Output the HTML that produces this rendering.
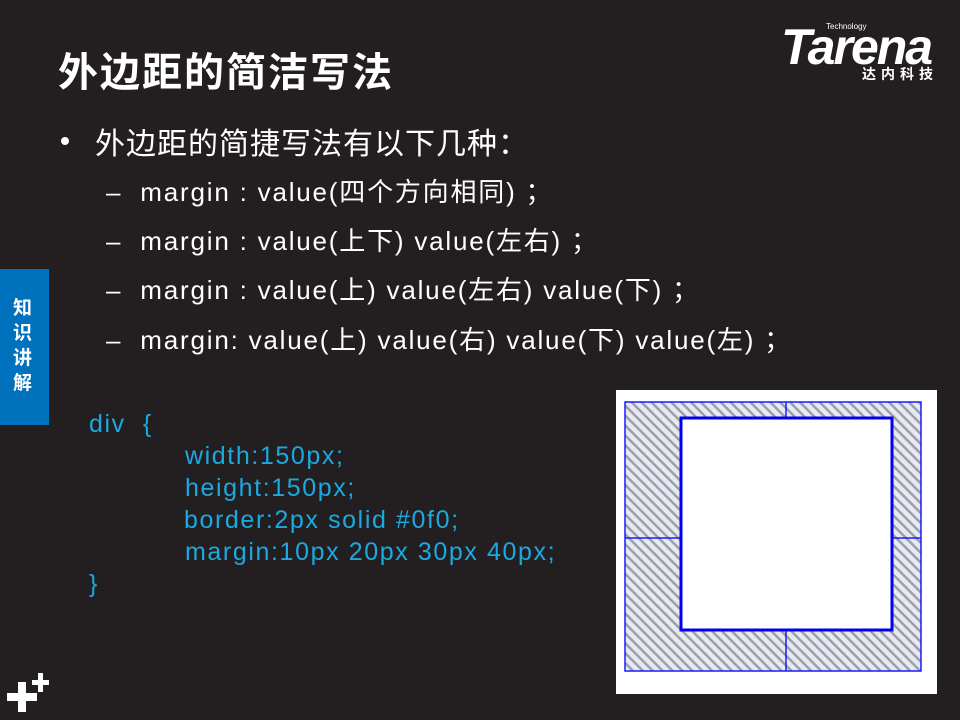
<!DOCTYPE html>
<html><head><meta charset="utf-8"><style>
body{margin:0;width:960px;height:720px;background:#231f20;position:relative;overflow:hidden;font-family:"Liberation Sans","Noto Sans CJK SC",sans-serif;}
.a{position:absolute;white-space:nowrap;}
.t{left:58px;top:40px;font-size:40px;font-weight:bold;color:#fff;letter-spacing:2px;}
.b{color:#fff;font-size:30px;letter-spacing:1px;}
.s{color:#fff;font-size:26px;letter-spacing:1.8px;}
.c{color:#1ba9e1;font-size:25px;letter-spacing:1.6px;}
</style></head><body>
<div class="a t">外边距的简洁写法</div>
<div class="a" style="left:781px;top:18px;color:#fff;font:italic bold 50px 'Liberation Sans',sans-serif;letter-spacing:-2px;">Tarena</div>
<div class="a" style="left:826px;top:22px;color:#fff;font-size:8px;">Technology</div>
<div class="a" style="left:862px;top:64px;color:#fff;font-size:14px;font-weight:bold;letter-spacing:5px;">达内科技</div>
<div class="a" style="left:61px;top:137px;width:8px;height:8px;border-radius:50%;background:#fff;"></div>
<div class="a b" style="left:95px;top:119px;">外边距的简捷写法有以下几种：</div>
<div class="a s" style="left:106px;top:172px;">–&nbsp;&nbsp;margin : value(四个方向相同) ；</div>
<div class="a s" style="left:106px;top:221px;">–&nbsp;&nbsp;margin : value(上下) value(左右) ；</div>
<div class="a s" style="left:106px;top:270px;">–&nbsp;&nbsp;margin : value(上) value(左右) value(下) ；</div>
<div class="a s" style="left:106px;top:320px;">–&nbsp;&nbsp;margin: value(上) value(右) value(下) value(左) ；</div>
<div class="a" style="left:0;top:269px;width:49px;height:156px;background:#0071bc;"></div>
<div class="a" style="left:13px;top:296px;width:24px;color:#fff;font-size:19px;font-weight:bold;line-height:25px;white-space:normal;">知识讲解</div>
<div class="a c" style="left:89px;top:410px;">div&nbsp;&nbsp;{</div>
<div class="a c" style="left:185px;top:442px;">width:150px;</div>
<div class="a c" style="left:185px;top:474px;">height:150px;</div>
<div class="a c" style="left:184px;top:506px;">border:2px solid #0f0;</div>
<div class="a c" style="left:185px;top:538px;">margin:10px 20px 30px 40px;</div>
<div class="a c" style="left:89px;top:570px;">}</div>
<svg class="a" style="left:0;top:0" width="960" height="720">
<defs><pattern id="h" width="7" height="7" patternUnits="userSpaceOnUse" patternTransform="rotate(-45)"><rect width="7" height="7" fill="#e6eaf4"/><rect width="2.5" height="7" fill="#a0a0a4"/></pattern></defs>
<rect x="616" y="390" width="321" height="304" fill="#fff"/>
<rect x="625" y="402" width="296" height="269" fill="url(#h)" stroke="#1a1aff" stroke-width="1.5"/>
<line x1="786" y1="402" x2="786" y2="417" stroke="#1a1aff" stroke-width="1.5"/>
<line x1="786" y1="631" x2="786" y2="671" stroke="#1a1aff" stroke-width="1.5"/>
<line x1="625" y1="538" x2="680" y2="538" stroke="#1a1aff" stroke-width="1.5"/>
<line x1="893" y1="538" x2="921" y2="538" stroke="#1a1aff" stroke-width="1.5"/>
<rect x="681" y="418" width="211" height="212" fill="#fff" stroke="#0000ee" stroke-width="3"/>
<g fill="#fff"><rect x="7" y="693" width="30" height="8"/><rect x="18" y="682" width="8" height="30"/><rect x="32" y="680" width="17" height="5"/><rect x="38" y="673" width="5" height="19"/></g>
</svg>
</body></html>
